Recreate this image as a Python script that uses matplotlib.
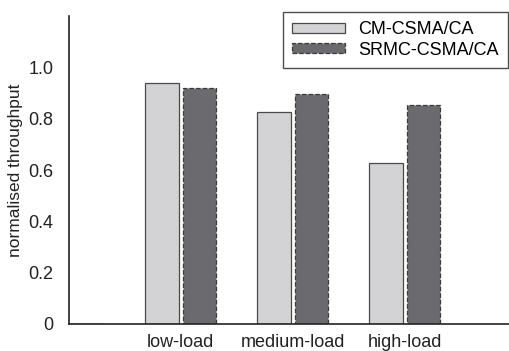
import matplotlib.pyplot as plt
import numpy as np

plt.rcParams['font.family'] = ['Liberation Sans', 'DejaVu Sans']

# Datos.
categorias = ['', 'low-load', 'medium-load', 'high-load']
cm_csma = [0.0, 0.938, 0.826, 0.629]
srmc_csma = [0.0, 0.921, 0.896, 0.853]
yticks = [0, 0.2, 0.4, 0.6, 0.8, 1.0]
ytick_labels = ['0', '0.2', '0.4', '0.6', '0.8', '1.0']

x = np.arange(len(categorias))
ancho = 0.30

fig = plt.figure(figsize=(5.10, 3.51), dpi=100)
ax = fig.add_axes([0.135, 0.077, 0.865, 0.877])

ax.bar(x - 0.167, cm_csma, ancho, color='#d3d3d5', edgecolor='#4a4a4a',
       linewidth=0.9, label='CM-CSMA/CA')
ax.bar(x + 0.167, srmc_csma, ancho, color='#6b6b6f', edgecolor='#3a3a3a',
       linewidth=0.9, linestyle='--', label='SRMC-CSMA/CA')

ax.set_xlim(0, 3.94)
ax.set_ylim(0, 1.2)
ax.set_xticks(x)
ax.set_xticklabels(categorias, fontsize=13, color='#222222')
ax.set_yticks(yticks)
ax.set_yticklabels(ytick_labels, fontsize=13, color='#222222')
ax.tick_params(axis='both', length=0)
ax.tick_params(axis='y', pad=11)
ax.tick_params(axis='x', pad=7)

ax.set_ylabel('normalised throughput', fontsize=12.5, color='#222222', labelpad=4)

for lado in ['top', 'right']:
    ax.spines[lado].set_visible(False)
for lado in ['left', 'bottom']:
    ax.spines[lado].set_color('#222222')
    ax.spines[lado].set_linewidth(1.2)

leg = ax.legend(loc='upper right', bbox_to_anchor=(0.995, 1.013), fontsize=13,
                frameon=True, fancybox=False, edgecolor='#222222',
                handlelength=2.9, handleheight=0.45, borderpad=0.5,
                labelspacing=0.2, handletextpad=0.75, borderaxespad=0.0)
leg.get_frame().set_linewidth(1.0)

fig.savefig('out.png', dpi=100)
